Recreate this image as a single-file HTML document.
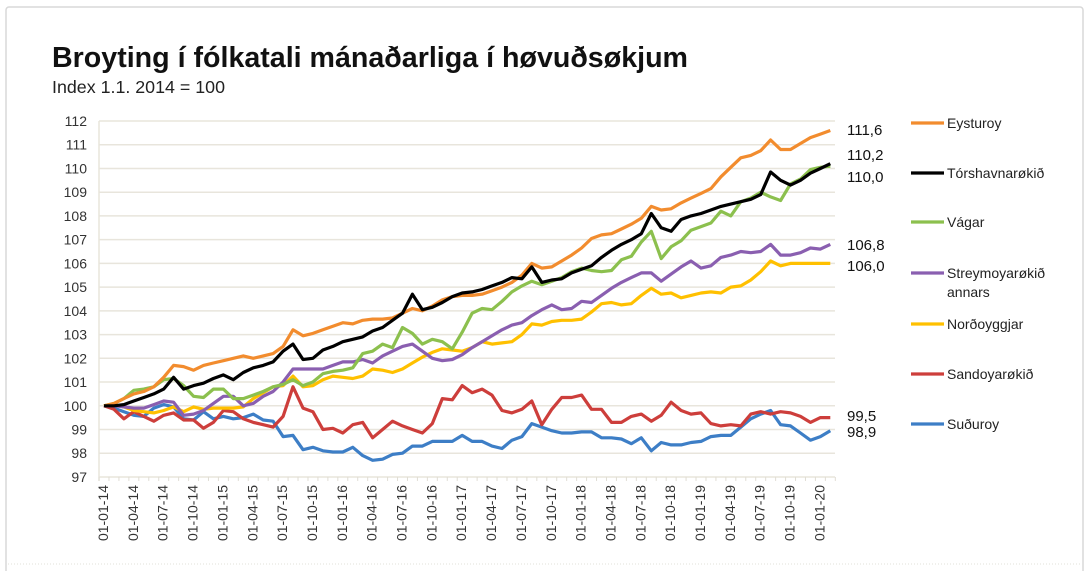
<!DOCTYPE html>
<html><head><meta charset="utf-8">
<style>
body{margin:0;background:#fff;width:1092px;height:571px;overflow:hidden;font-family:"Liberation Sans",sans-serif;}
svg text{font-family:"Liberation Sans","DejaVu Sans",sans-serif;}
</style></head>
<body>
<svg id="chart" width="1092" height="571" xmlns="http://www.w3.org/2000/svg">
<rect x="6" y="7" width="1077" height="570" fill="none" stroke="#d8d8d8" stroke-width="1.5" rx="3"/>
<text x="52" y="67" font-size="28.5" font-weight="bold" fill="#111" textLength="636" lengthAdjust="spacingAndGlyphs">Broyting í fólkatali mánaðarliga í høvuðsøkjum</text>
<text x="52" y="93" font-size="17.5" fill="#222" textLength="173" lengthAdjust="spacingAndGlyphs">Index 1.1. 2014 = 100</text>
<line x1="8" y1="564" x2="1082" y2="564" stroke="#e0e0d8" stroke-dasharray="1,2"/>
<g id="grid"></g><g id="axes"></g><g id="series"></g><g id="labels"></g><g id="legend"></g>
</svg>
<script>
const months = [];
for (let i = 0; i < 74; i++) { const m = i % 12 + 1, y = 14 + Math.floor(i / 12); months.push('01-' + String(m).padStart(2,'0') + '-' + y); }
const yTicks = [97,98,99,100,101,102,103,104,105,106,107,108,109,110,111,112];
const seriesNames = ["Eysturoy","Tórshavnarøkið","Vágar","Streymoyarøkið annars","Norðoyggjar","Sandoyarøkið","Suðuroy"];
const eysturoy = [100,100.1,100.3,100.5,100.6,100.8,101.2,101.7,101.65,101.5,101.7,101.8,101.9,102,102.1,102,102.1,102.2,102.5,103.2,102.95,103.05,103.2,103.35,103.5,103.45,103.6,103.65,103.65,103.7,103.9,104.1,104,104.2,104.46,104.6,104.65,104.65,104.7,104.85,105,105.2,105.5,106,105.8,105.85,106.1,106.35,106.65,107.05,107.2,107.25,107.45,107.65,107.9,108.4,108.25,108.3,108.55,108.75,108.95,109.15,109.65,110.05,110.45,110.55,110.75,111.2,110.8,110.8,111.05,111.3,111.45,111.6];
const torshavn = [100,100,100.05,100.2,100.35,100.5,100.7,101.2,100.7,100.85,100.95,101.15,101.3,101.1,101.4,101.6,101.7,101.85,102.3,102.6,101.95,102,102.35,102.5,102.7,102.8,102.9,103.15,103.3,103.6,103.9,104.7,104.05,104.15,104.35,104.6,104.75,104.8,104.9,105.05,105.2,105.4,105.35,105.85,105.2,105.3,105.35,105.6,105.75,105.9,106.25,106.55,106.8,107,107.25,108.1,107.5,107.35,107.85,108,108.1,108.25,108.4,108.5,108.6,108.7,108.9,109.85,109.5,109.3,109.5,109.8,110,110.2];
const vagar = [100,100.1,100.3,100.65,100.7,100.8,101.1,101.15,100.85,100.4,100.35,100.7,100.7,100.3,100.3,100.45,100.6,100.8,100.9,101.1,100.85,101,101.35,101.45,101.5,101.6,102.2,102.3,102.6,102.45,103.3,103.05,102.6,102.8,102.7,102.4,103.1,103.9,104.1,104.05,104.4,104.8,105.05,105.25,105.1,105.25,105.4,105.65,105.8,105.7,105.65,105.7,106.15,106.3,106.9,107.35,106.2,106.7,106.95,107.4,107.55,107.7,108.2,108,108.6,108.75,109,108.8,108.65,109.35,109.55,109.95,110.05,110.1];
const streymoy = [100,100,99.95,99.9,99.9,100.05,100.2,100.15,99.6,99.65,99.8,100.1,100.4,100.4,100,100.1,100.4,100.6,101,101.55,101.55,101.55,101.55,101.7,101.85,101.85,101.95,101.8,102.1,102.3,102.5,102.6,102.3,102,101.9,101.95,102.15,102.45,102.7,102.95,103.2,103.4,103.5,103.8,104.05,104.25,104.05,104.1,104.4,104.35,104.65,104.95,105.2,105.4,105.6,105.6,105.25,105.55,105.85,106.1,105.8,105.9,106.25,106.35,106.5,106.45,106.5,106.8,106.35,106.35,106.45,106.65,106.6,106.8];
const nordoy = [100,100.05,99.95,99.8,99.75,99.7,99.8,99.95,99.75,99.95,99.85,99.9,99.9,99.9,99.95,100.3,100.55,100.8,100.85,101.25,100.8,100.85,101.1,101.25,101.2,101.15,101.25,101.55,101.5,101.4,101.55,101.8,102.05,102.25,102.4,102.35,102.3,102.45,102.7,102.6,102.65,102.7,103,103.45,103.4,103.55,103.6,103.6,103.65,103.95,104.3,104.35,104.25,104.3,104.65,104.95,104.7,104.75,104.55,104.65,104.75,104.8,104.75,105,105.05,105.3,105.65,106.1,105.9,106,106,106,106,106];
const sandoy = [100,99.85,99.45,99.75,99.55,99.35,99.6,99.7,99.4,99.4,99.05,99.3,99.8,99.75,99.45,99.3,99.2,99.1,99.55,100.8,99.9,99.75,99,99.05,98.85,99.2,99.3,98.65,99,99.35,99.15,99,98.85,99.25,100.3,100.25,100.85,100.55,100.7,100.45,99.8,99.7,99.85,100.2,99.2,99.85,100.35,100.35,100.45,99.85,99.85,99.3,99.3,99.55,99.65,99.35,99.6,100.15,99.8,99.65,99.7,99.25,99.15,99.2,99.15,99.65,99.75,99.65,99.75,99.7,99.55,99.3,99.5,99.5];
const suduroy = [100,99.9,99.75,99.6,99.55,99.9,100.05,99.95,99.45,99.4,99.75,99.45,99.55,99.45,99.5,99.65,99.4,99.35,98.7,98.75,98.15,98.25,98.1,98.05,98.05,98.25,97.9,97.7,97.75,97.95,98,98.3,98.3,98.5,98.5,98.5,98.75,98.5,98.5,98.3,98.2,98.55,98.7,99.25,99.1,98.95,98.85,98.85,98.9,98.9,98.65,98.65,98.6,98.4,98.65,98.1,98.45,98.35,98.35,98.45,98.5,98.7,98.75,98.75,99.1,99.45,99.65,99.8,99.2,99.15,98.85,98.55,98.7,98.95];
const endLabels = ["111,6","110,2","110,0","106,8","106,0","99,5","98,9"];

const colors = ["#F28C2E","#000000","#8CC04E","#8A5FB0","#FFC000","#CD3E3B","#3D7EC6"];
const NS = "http://www.w3.org/2000/svg";
const X0 = 104, DX = 9.95, Y112 = 121, PERU = 23.73;
function xPos(i){ return X0 + i * DX; }
function yPos(v){ return Y112 + (112 - v) * PERU; }
function mk(tag, attrs, parent, txt){ const e = document.createElementNS(NS, tag); for (const k in attrs) e.setAttribute(k, attrs[k]); if (txt !== undefined) e.textContent = txt; parent.appendChild(e); return e; }

const grid = document.getElementById('grid'), axes = document.getElementById('axes');
yTicks.forEach(t => {
  const g = mk('line', {x1:99, x2:835, y1:yPos(t), y2:yPos(t), stroke:'#e8e5dc', 'stroke-width':1.5}, grid);
  
  
  const l = mk('text', {x:87, y:yPos(t)+5, 'text-anchor':'end', 'font-size':14, fill:'#333'}, axes, String(t));
  
  
});
const ax = mk('line', {x1:99, x2:99, y1:yPos(112), y2:yPos(97)+4, stroke:'#e8e5dc', 'stroke-width':1.5}, axes);


for (let i = 0; i <= months.length; i++) {
  const tx = X0 - DX/2 + i * DX;
  const tk = mk('line', {x1:tx, x2:tx, y1:yPos(97), y2:yPos(97)+4, stroke:'#e0ddd4'}, axes);
  
  
}
months.forEach((m, i) => {
  if (i % 3) return;
  const x = xPos(i) + 4, y = 485;
  const t = mk('text', {x:x, y:y, 'text-anchor':'end', 'font-size':14, fill:'#333', transform:'rotate(-90 ' + x + ' ' + y + ')'}, axes, m);
  
  
});

const data = [eysturoy, torshavn, vagar, streymoy, nordoy, sandoy, suduroy];
const sg = document.getElementById('series');
const order = [6,5,4,3,2,0,1];
order.forEach(s => {
  const pts = data[s].map((v, i) => xPos(i).toFixed(1) + ',' + yPos(v).toFixed(1)).join(' ');
  const p = mk('polyline', {points:pts, fill:'none', stroke:colors[s], 'stroke-width':3.2, 'stroke-linejoin':'round'}, sg);
  
  
});

const lg = document.getElementById('labels');
const labelY = [130, 155, 177, 245, 266, 416, 432];
endLabels.forEach((t, s) => {
  const e = mk('text', {x:847, y:labelY[s] + 5, 'font-size':15, fill:'#111'}, lg, t);
  
  
});

const leg = document.getElementById('legend');
const legY = [123, 173, 222, 273, 324, 374, 424];
seriesNames.forEach((n, s) => {
  const ln = mk('line', {x1:911, x2:944, y1:legY[s], y2:legY[s], stroke:colors[s], 'stroke-width':3.2}, leg);
  
  
  const parts = s === 3 ? ["Streymoyarøkið","annars"] : [n];
  parts.forEach((p, k) => {
    const t = mk('text', {x:947, y:legY[s] + 5 + k*19, 'font-size':14, fill:'#222'}, leg, p);
    
    
  });
});
</script>
</body></html>
